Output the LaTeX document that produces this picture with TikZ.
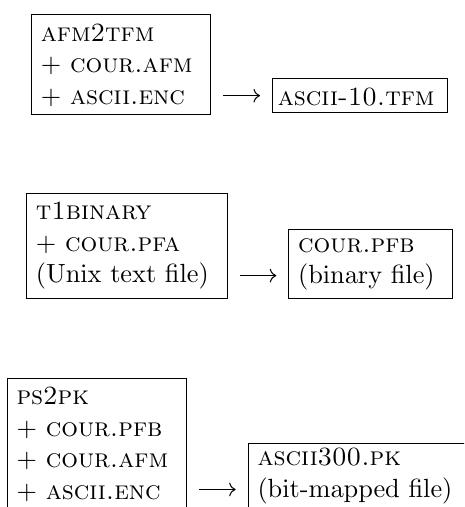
\documentclass[tikz,border=0pt]{standalone}
\usepackage[OT1]{fontenc}
\renewcommand{\rmdefault}{cmr}
\usetikzlibrary{arrows.meta}

\begin{document}
\begin{tikzpicture}[
    x=0.3802pt, y=-0.3802pt,
    font={\fontsize{10}{12}\selectfont},
    filebox/.style={draw, line width=0.4pt, anchor=north west, align=left,
                    inner xsep=3.54pt, inner ysep=0pt},
    feed/.style={-{Computer Modern Rightarrow}, line width=0.4pt,
                 shorten <=4.56pt, shorten >=4.56pt}
]
    \clip (0,0) rectangle (464,507);

    % afm2tfm
    \node[filebox, text width=61pt, text height=10.15pt, text depth=27.9pt] (afm) at (31,14)
        {\textsc{afm2tfm}\\+ \textsc{cour.afm}\\+ \textsc{ascii.enc}};
    \node[filebox, inner xsep=2pt, text width=62.4pt, text height=10.4pt, text depth=2.55pt] (tfm) at (272,77.7)
        {\textsc{ascii-10.tfm}};
    \draw[feed] ([yshift=7.4pt]afm.south east) -- ([yshift=7.4pt]afm.south east -| tfm.west);

    % t1binary
    \node[filebox, text width=69.2pt, text height=9.9pt, text depth=29.8pt] (pfa) at (26,193.3)
        {\textsc{t1binary}\\+ \textsc{cour.pfa}\\(Unix text file)};
    \node[filebox, text width=55.3pt, text height=8.6pt, text depth=17.5pt] (pfb) at (288.3,229)
        {\textsc{cour.pfb}\\(binary file)};
    \draw[feed] ([yshift=8.8pt]pfa.south east) -- ([yshift=8.8pt]pfa.south east -| pfb.west);

    % ps2pk
    \node[filebox, text width=61.1pt, text height=10pt, text depth=41.1pt] (ps) at (6.7,377.7)
        {\textsc{ps2pk}\\+ \textsc{cour.pfb}\\+ \textsc{cour.afm}\\+ \textsc{ascii.enc}};
    \node[filebox, text width=79.2pt, text height=8.6pt, text depth=17.9pt] (pk) at (247.7,442.5)
        {\textsc{ascii300.pk}\\(bit-mapped file)};
    \draw[feed] ([yshift=9pt]ps.south east) -- ([yshift=9pt]ps.south east -| pk.west);
\end{tikzpicture}
\end{document}
